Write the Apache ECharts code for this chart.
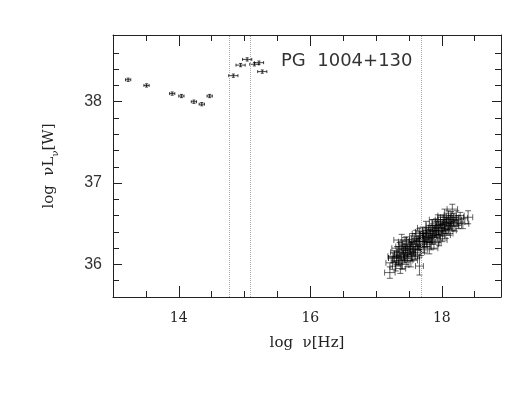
<!DOCTYPE html>
<html>
<head>
<meta charset="utf-8">
<script src="https://cdn.jsdelivr.net/npm/echarts@6/dist/echarts.min.js"></script>
<style>
  html, body { margin: 0; padding: 0; background: #fff; }
  #chart { width: 516px; height: 399px; }
</style>
</head>
<body>
<div id="chart"></div>
<script>
// ticks
const xMajorTicks = [14, 16, 18];
const xMinorTicks = [13.5, 14.5, 15, 15.5, 16.5, 17, 17.5, 18.5];
const yMajorTicks = [36, 37, 38];
const yMinorTicks = [35.8, 36.2, 36.4, 36.6, 36.8, 37.2, 37.4, 37.6, 37.8, 38.2, 38.4, 38.6];

// dotted band separators
const dividers = [14.77, 15.08, 17.68];

// IR / optical points
const irX = [13.23, 13.51, 13.90, 14.04, 14.23, 14.35, 14.47];
const irY = [38.27, 38.20, 38.10, 38.07, 38.00, 37.97, 38.07];
const irXErr = [0.04, 0.04, 0.04, 0.04, 0.04, 0.04, 0.04];
const irYErr = [0.02, 0.02, 0.02, 0.02, 0.02, 0.02, 0.02];

// UV points
const uvX = [14.83, 14.94, 15.04, 15.15, 15.22, 15.27];
const uvY = [38.32, 38.45, 38.52, 38.46, 38.48, 38.37];
const uvXErr = [0.07, 0.07, 0.07, 0.07, 0.07, 0.07];
const uvYErr = [0.02, 0.02, 0.02, 0.02, 0.02, 0.02];

// X-ray points [x, y, xErr, yErr]
const xrayPoints = [
  [17.21, 35.90, 0.08, 0.07], [17.25, 36.02, 0.10, 0.08], [17.26, 36.08, 0.07, 0.06],
  [17.28, 36.10, 0.10, 0.07], [17.30, 35.98, 0.09, 0.06], [17.31, 36.08, 0.12, 0.08],
  [17.32, 36.15, 0.10, 0.07], [17.34, 36.05, 0.11, 0.06], [17.35, 36.10, 0.09, 0.08],
  [17.36, 36.20, 0.12, 0.07], [17.37, 35.95, 0.08, 0.06], [17.38, 36.12, 0.10, 0.08],
  [17.39, 36.30, 0.12, 0.07], [17.40, 36.00, 0.10, 0.06], [17.41, 36.22, 0.11, 0.08],
  [17.42, 36.15, 0.10, 0.07], [17.43, 36.08, 0.12, 0.06], [17.44, 36.25, 0.10, 0.08],
  [17.45, 36.18, 0.11, 0.07], [17.46, 36.28, 0.12, 0.06], [17.47, 36.05, 0.09, 0.08],
  [17.48, 36.10, 0.12, 0.07], [17.50, 36.15, 0.10, 0.08], [17.51, 36.25, 0.11, 0.06],
  [17.52, 36.20, 0.13, 0.07], [17.53, 36.05, 0.10, 0.08], [17.54, 36.10, 0.12, 0.06],
  [17.55, 36.20, 0.11, 0.07], [17.56, 36.30, 0.10, 0.08], [17.57, 36.18, 0.12, 0.07],
  [17.58, 36.12, 0.11, 0.06], [17.60, 36.22, 0.13, 0.08], [17.61, 36.35, 0.10, 0.07],
  [17.62, 36.28, 0.12, 0.06], [17.63, 36.15, 0.11, 0.08], [17.65, 36.25, 0.12, 0.07],
  [17.66, 35.98, 0.06, 0.11], [17.66, 36.38, 0.11, 0.06], [17.67, 36.32, 0.13, 0.08],
  [17.68, 36.18, 0.10, 0.07], [17.70, 36.30, 0.12, 0.08], [17.71, 36.40, 0.11, 0.06],
  [17.72, 36.35, 0.13, 0.07], [17.73, 36.22, 0.10, 0.08], [17.74, 36.28, 0.12, 0.07],
  [17.75, 36.33, 0.11, 0.06], [17.76, 36.45, 0.13, 0.08], [17.77, 36.38, 0.10, 0.07],
  [17.78, 36.28, 0.12, 0.06], [17.80, 36.38, 0.11, 0.08], [17.81, 36.20, 0.13, 0.07],
  [17.82, 36.35, 0.10, 0.08], [17.83, 36.42, 0.12, 0.06], [17.84, 36.25, 0.11, 0.07],
  [17.85, 36.33, 0.13, 0.08], [17.86, 36.48, 0.10, 0.07], [17.87, 36.42, 0.12, 0.06],
  [17.88, 36.27, 0.11, 0.08], [17.90, 36.40, 0.13, 0.07], [17.91, 36.50, 0.10, 0.06],
  [17.92, 36.45, 0.12, 0.08], [17.93, 36.35, 0.11, 0.07], [17.94, 36.55, 0.13, 0.06],
  [17.95, 36.45, 0.10, 0.08], [17.96, 36.30, 0.12, 0.07], [17.97, 36.40, 0.11, 0.08],
  [17.98, 36.52, 0.13, 0.06], [18.00, 36.42, 0.10, 0.07], [18.01, 36.36, 0.12, 0.08],
  [18.02, 36.48, 0.11, 0.07], [18.03, 36.55, 0.13, 0.06], [18.04, 36.60, 0.10, 0.08],
  [18.05, 36.45, 0.12, 0.07], [18.06, 36.38, 0.11, 0.06], [18.07, 36.55, 0.13, 0.08],
  [18.08, 36.50, 0.10, 0.07], [18.10, 36.58, 0.12, 0.08], [18.11, 36.42, 0.11, 0.06],
  [18.12, 36.50, 0.13, 0.07], [18.13, 36.52, 0.10, 0.08], [18.14, 36.58, 0.12, 0.07],
  [18.15, 36.47, 0.11, 0.06], [18.16, 36.68, 0.08, 0.06], [18.18, 36.55, 0.12, 0.08],
  [18.20, 36.48, 0.10, 0.07], [18.22, 36.60, 0.12, 0.06], [18.25, 36.52, 0.10, 0.08],
  [18.28, 36.57, 0.11, 0.07], [18.32, 36.50, 0.09, 0.06], [18.40, 36.58, 0.07, 0.08]
];

const toTuples = (xs, ys, xe, ye) => xs.map((x, i) => [x, ys[i], xe[i], ye[i]]);

const errorBars = (cap, color) => (params, api) => {
  const x = api.value(0), y = api.value(1), ex = api.value(2), ey = api.value(3);
  const l = api.coord([x - ex, y]);
  const r = api.coord([x + ex, y]);
  const t = api.coord([x, y + ey]);
  const b = api.coord([x, y - ey]);
  const style = { stroke: color, lineWidth: 1 };
  const seg = (x1, y1, x2, y2) => ({ type: 'line', shape: { x1, y1, x2, y2 }, style });
  return {
    type: 'group',
    children: [
      seg(l[0], l[1], r[0], r[1]),
      seg(t[0], t[1], b[0], b[1]),
      seg(l[0], l[1] - cap, l[0], l[1] + cap),
      seg(r[0], r[1] - cap, r[0], r[1] + cap),
      seg(t[0] - cap, t[1], t[0] + cap, t[1]),
      seg(b[0] - cap, b[1], b[0] + cap, b[1])
    ]
  };
};

const axisColor = '#222';
const serif = 'DejaVu Serif';
const sans = 'Liberation Sans';

const xBase = { type: 'value', min: 13, max: 18.9, splitLine: { show: false } };
const yBase = { type: 'value', min: 35.6, max: 38.82, splitLine: { show: false } };

const tickAxis = (base, pos, values, len, showLine) => Object.assign({}, base, {
  position: pos,
  axisLine: { show: showLine, onZero: false, lineStyle: { color: axisColor, width: 1 } },
  axisTick: { show: true, inside: true, length: len, customValues: values, lineStyle: { color: axisColor } },
  axisLabel: { show: false }
});

const option = {
  animation: false,
  backgroundColor: '#fff',
  grid: { left: 113, right: 15, top: 35, bottom: 102 },
  title: {
    text: 'PG  1004+130',
    left: 281,
    top: 52,
    padding: 0,
    textStyle: { fontFamily: 'DejaVu Sans', fontSize: 18, fontWeight: 'normal', color: '#333' }
  },
  xAxis: [
    Object.assign(tickAxis(xBase, 'bottom', xMajorTicks, 11, true), {
      axisLabel: { show: true, customValues: xMajorTicks, margin: 14, fontFamily: serif, fontSize: 14, color: '#222' },
      name: 'log  ν[Hz]',
      nameLocation: 'middle',
      nameGap: 39,
      nameTextStyle: { fontFamily: serif, fontSize: 15, color: '#222' }
    }),
    tickAxis(xBase, 'bottom', xMinorTicks, 6, false),
    tickAxis(xBase, 'top', xMajorTicks, 11, true),
    tickAxis(xBase, 'top', xMinorTicks, 6, false)
  ],
  yAxis: [
    Object.assign(tickAxis(yBase, 'left', yMajorTicks, 9, true), {
      axisLabel: { show: true, customValues: yMajorTicks, margin: 11, fontFamily: sans, fontSize: 16, color: '#333' },
      name: 'log  νL{s|ν}[W]',
      nameLocation: 'middle',
      nameRotate: 90,
      nameGap: 53,
      nameTextStyle: {
        fontFamily: serif, fontSize: 15, color: '#222', lineHeight: 22,
        rich: { s: { fontFamily: serif, fontSize: 10, color: '#222', lineHeight: 10, verticalAlign: 'bottom' } }
      }
    }),
    tickAxis(yBase, 'left', yMinorTicks, 6, false),
    tickAxis(yBase, 'right', yMajorTicks, 9, true),
    tickAxis(yBase, 'right', yMinorTicks, 6, false)
  ],
  series: [
    {
      name: 'IR',
      type: 'custom',
      xAxisIndex: 0,
      yAxisIndex: 0,
      renderItem: errorBars(1.5, 'rgba(0,0,0,0.75)'),
      data: toTuples(irX, irY, irXErr, irYErr),
      markLine: {
        silent: true,
        symbol: 'none',
        label: { show: false },
        lineStyle: { type: 'dotted', color: '#aaa', width: 1 },
        data: dividers.map(v => ({ xAxis: v }))
      }
    },
    {
      name: 'UV',
      type: 'custom',
      xAxisIndex: 0,
      yAxisIndex: 0,
      renderItem: errorBars(1.5, 'rgba(0,0,0,0.75)'),
      data: toTuples(uvX, uvY, uvXErr, uvYErr)
    },
    {
      name: 'X-ray',
      type: 'custom',
      xAxisIndex: 0,
      yAxisIndex: 0,
      renderItem: errorBars(3, 'rgba(0,0,0,0.6)'),
      data: xrayPoints
    }
  ]
};

const myChart = echarts.init(document.getElementById('chart'));
myChart.setOption(option);
</script>
</body>
</html>
